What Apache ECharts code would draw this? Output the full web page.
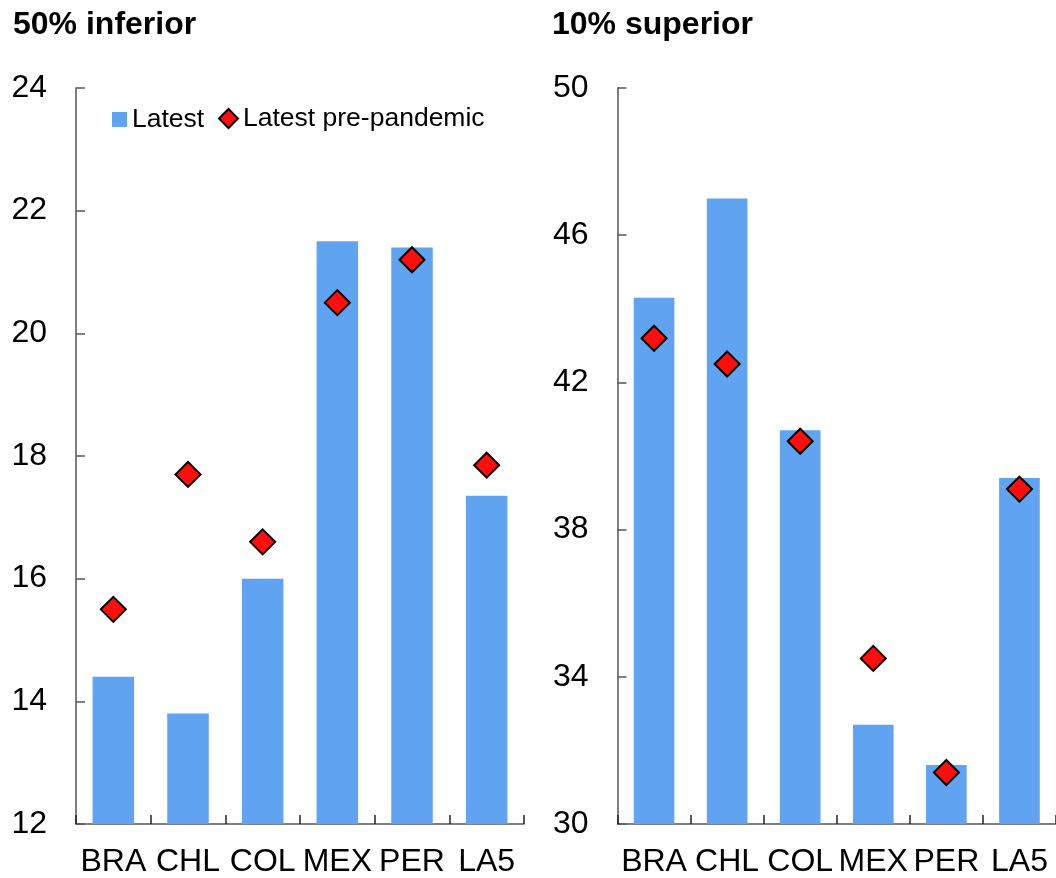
<!DOCTYPE html>
<html>
<head>
<meta charset="utf-8">
<script src="https://cdn.jsdelivr.net/npm/echarts@6/dist/echarts.min.js"></script>
<style>
html,body{margin:0;padding:0;background:#fff;}
#chart{width:1056px;height:878px;}
</style>
</head>
<body>
<div id="chart"></div>
<script>
const categories = ['BRA', 'CHL', 'COL', 'MEX', 'PER', 'LA5'];
const bottom50Latest = [14.4, 13.8, 16.0, 21.5, 21.4, 17.35];
const bottom50PrePandemic = [15.5, 17.7, 16.6, 20.5, 21.2, 17.85];
const top10Latest = [44.3, 47.0, 40.7, 32.7, 31.6, 39.4];
const top10PrePandemic = [43.2, 42.5, 40.4, 34.5, 31.4, 39.1];
const leftTicks = [12, 14, 16, 18, 20, 22, 24];
const rightTicks = [30, 34, 38, 42, 46, 50];
const titles = ['50% inferior', '10% superior'];
const seriesNames = ['Latest', 'Latest pre-pandemic'];

const FONT = 'Arial, "Liberation Sans", Helvetica, sans-serif';
const BAR_COLOR = '#60A3F0';
const DOT_COLOR = '#FF0E0E';
const AXIS_COLOR = '#555555';

function xAxis(gridIndex) {
  return {
    type: 'category', gridIndex, data: categories,
    axisLine: { show: true, lineStyle: { color: AXIS_COLOR, width: 1.5 } },
    axisTick: { show: true, inside: true, length: 9, lineStyle: { color: '#222', width: 1.5 } },
    axisLabel: { color: '#000', fontSize: 32, fontFamily: FONT, margin: 22, interval: 0 },
    splitLine: { show: false }
  };
}
function yAxis(gridIndex, ticks) {
  const min = ticks[0], max = ticks[ticks.length - 1];
  return {
    type: 'value', gridIndex, min, max, interval: ticks[1] - ticks[0],
    axisLine: { show: true, lineStyle: { color: AXIS_COLOR, width: 1.5 } },
    axisTick: { show: true, inside: true, length: 9, lineStyle: { color: AXIS_COLOR, width: 1.5 } },
    axisLabel: { color: '#000', fontSize: 32, fontFamily: FONT, margin: 29 },
    splitLine: { show: false }
  };
}
function bar(idx, data) {
  return {
    name: seriesNames[0], type: 'bar', xAxisIndex: idx, yAxisIndex: idx, data,
    barWidth: '55.6%', itemStyle: { color: BAR_COLOR }, z: 2, animation: false
  };
}
function dots(idx, data) {
  return {
    name: seriesNames[1], type: 'scatter', xAxisIndex: idx, yAxisIndex: idx, data,
    symbol: 'diamond', symbolSize: 25,
    itemStyle: { color: DOT_COLOR, borderColor: '#000', borderWidth: 2, opacity: 1 }, z: 3, animation: false
  };
}

const chart = echarts.init(document.getElementById('chart'), null, { renderer: 'canvas' });
chart.setOption({
  backgroundColor: '#fff',
  animation: false,
  title: [
    { text: titles[0], left: 8, top: 4, textStyle: { fontSize: 32, fontWeight: 'bold', color: '#000', fontFamily: FONT } },
    { text: titles[1], left: 547, top: 4, textStyle: { fontSize: 32, fontWeight: 'bold', color: '#000', fontFamily: FONT } }
  ],
  legend: [
    { data: [seriesNames[0]], left: 107, top: 101, icon: 'rect', itemWidth: 15, itemHeight: 15, itemGap: 10,
      textStyle: { fontSize: 26.5, color: '#000', fontFamily: FONT }, selectedMode: false },
    { data: [seriesNames[1]], left: 213, top: 100, icon: 'diamond', itemWidth: 19, itemHeight: 19,
      textStyle: { fontSize: 26.5, color: '#000', fontFamily: FONT }, selectedMode: false }
  ],
  grid: [
    { left: 76, top: 88, width: 448, height: 737, containLabel: false },
    { left: 617.5, top: 88, width: 438.5, height: 737, containLabel: false }
  ],
  xAxis: [xAxis(0), xAxis(1)],
  yAxis: [yAxis(0, leftTicks), yAxis(1, rightTicks)],
  series: [
    bar(0, bottom50Latest), dots(0, bottom50PrePandemic),
    bar(1, top10Latest), dots(1, top10PrePandemic)
  ]
});
</script>
</body>
</html>
